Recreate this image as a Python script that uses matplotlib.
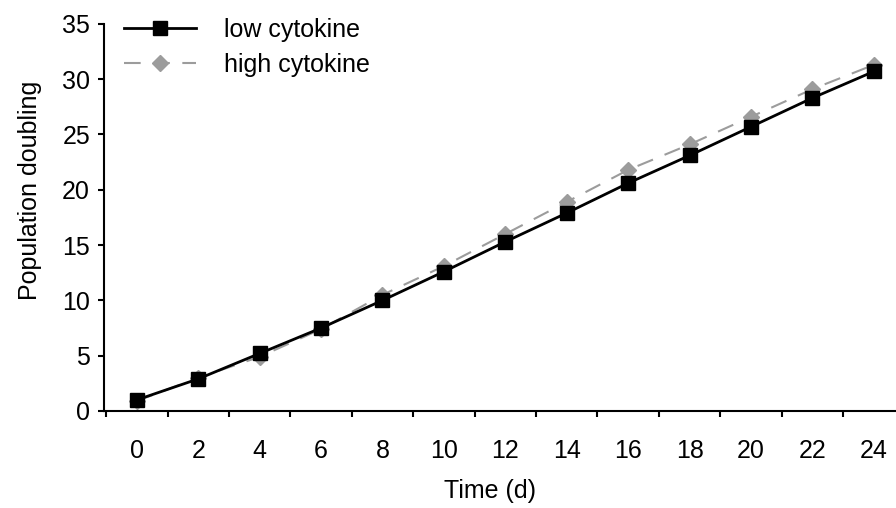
"""Population doubling over time for low vs high cytokine culture."""

import matplotlib

matplotlib.use("Agg")
import matplotlib.pyplot as plt

days = [0, 2, 4, 6, 8, 10, 12, 14, 16, 18, 20, 22, 24]
low_cytokine = [1.0, 2.9, 5.2, 7.5, 10.0, 12.6, 15.3, 17.9, 20.6, 23.1, 25.7, 28.3, 30.7]
high_cytokine = [0.9, 3.0, 4.9, 7.4, 10.5, 13.1, 16.0, 18.9, 21.8, 24.1, 26.6, 29.1, 31.3]

plt.rcParams["font.family"] = ["Liberation Sans", "DejaVu Sans"]

fig = plt.figure(figsize=(8.96, 5.08), dpi=100)
ax = fig.add_axes([0.116, 0.191, 0.884, 0.762])

ax.plot(
    days,
    high_cytokine,
    color="#9c9c9c",
    linewidth=1.5,
    dashes=(8, 6),
    marker="D",
    markersize=8,
    markeredgecolor="#9c9c9c",
    markerfacecolor="#9c9c9c",
    label="high cytokine",
)
ax.plot(
    days,
    low_cytokine,
    color="black",
    linewidth=2,
    marker="s",
    markersize=9.5,
    label="low cytokine",
)

ax.set_xlim(-1.07, 24.72)
ax.set_ylim(0, 35)

# labels at even days, tick marks between them at odd days
ax.set_xticks(days)
ax.set_xticks(range(-1, 25, 2), minor=True)
ax.tick_params(axis="x", which="major", length=0, pad=20, labelsize=18)
ax.tick_params(axis="x", which="minor", length=4, width=1.5, direction="out")
ax.set_yticks(range(0, 36, 5))
ax.tick_params(axis="y", length=4, width=1.5, direction="out", pad=6, labelsize=18)

for side in ("top", "right"):
    ax.spines[side].set_visible(False)
for side in ("left", "bottom"):
    ax.spines[side].set_linewidth(1.5)

ax.set_xlabel("Time (d)", fontsize=18)
ax.set_ylabel("Population doubling", fontsize=18)
# the labels sit a little off-centre in the original
ax.xaxis.set_label_coords(0.487, -0.176)
ax.yaxis.set_label_coords(-0.078, 0.571)

handles, labels = ax.get_legend_handles_labels()
ax.legend(
    handles[::-1],
    labels[::-1],
    loc="upper left",
    bbox_to_anchor=(0.025, 1.016),
    borderaxespad=0,
    borderpad=0,
    frameon=False,
    fontsize=18,
    handlelength=2.9,
    handletextpad=1.1,
    labelspacing=0.45,
)

plt.savefig("out.png", dpi=100)
plt.close()
